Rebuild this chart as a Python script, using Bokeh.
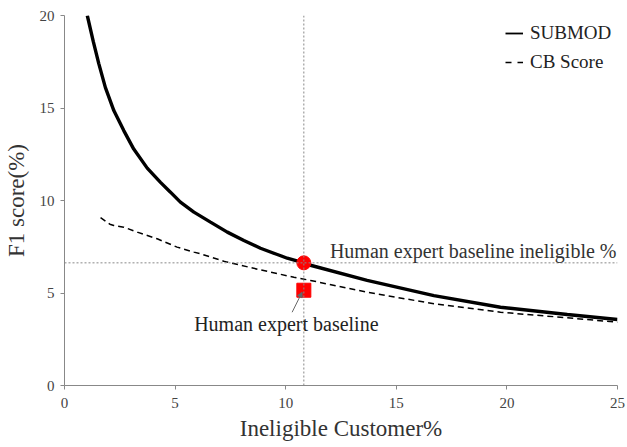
from bokeh.plotting import figure
from bokeh.models import Range1d, Label, Arrow, NormalHead, Span, Legend, LegendItem
from bokeh.embed import file_html
from bokeh.resources import INLINE

# SUBMOD curve
sub_x = [1.03, 1.30, 1.55, 1.85, 2.23, 2.68, 3.13, 3.74, 4.34, 4.79, 5.24, 5.85, 6.60,
         7.36, 8.11, 8.86, 9.62, 10.07, 10.82, 11.12, 13.68, 16.70, 19.71, 22.73, 25.0]
sub_y = [20.0, 18.6, 17.4, 16.1, 14.86, 13.78, 12.78, 11.75, 10.98, 10.45, 9.91, 9.37,
         8.83, 8.29, 7.84, 7.42, 7.08, 6.88, 6.63, 6.50, 5.68, 4.86, 4.23, 3.84, 3.57]

# CB Score curve
cb_x = [1.63, 2.05, 2.23, 2.68, 3.29, 4.19, 5.09, 5.85, 6.15, 7.20, 7.36, 8.86, 10.37,
        11.12, 13.68, 16.70, 19.71, 22.73, 25.0]
cb_y = [9.08, 8.72, 8.65, 8.56, 8.29, 7.93, 7.48, 7.21, 7.12, 6.72, 6.67, 6.25, 5.85,
        5.68, 5.04, 4.42, 3.96, 3.66, 3.42]

# Human expert baseline
human_ineligible = 10.82
human_f1_submod = 6.63
human_f1 = 5.15

x_ticks = [0, 5, 10, 15, 20, 25]
y_ticks = [0, 5, 10, 15, 20]

FONT = "Liberation Serif"

p = figure(width=627, height=447, output_backend="svg", toolbar_location=None,
           x_range=Range1d(0, 25), y_range=Range1d(0, 20),
           min_border_left=64, min_border_right=10, min_border_top=15, min_border_bottom=62)
p.outline_line_color = None
p.xgrid.visible = False
p.ygrid.visible = False

for ax in (p.xaxis[0], p.yaxis[0]):
    ax.axis_line_color = "#888888"
    ax.major_tick_line_color = "#888888"
    ax.minor_tick_line_color = None
    ax.major_tick_in = 0
    ax.major_tick_out = 4
    ax.major_label_text_font = FONT
    ax.major_label_text_font_size = "15px"
    ax.major_label_text_color = "#444444"
    ax.axis_label_text_font = FONT
    ax.axis_label_text_font_size = "23px"
    ax.axis_label_text_font_style = "normal"
    ax.axis_label_text_color = "#333333"

p.xaxis.ticker = x_ticks
p.yaxis.ticker = y_ticks
p.xaxis.axis_label = "Ineligible Customer%"
p.yaxis.axis_label = "F1 score(%)"
p.xaxis.major_label_standoff = 8
p.yaxis.major_label_standoff = 6
p.xaxis.axis_label_standoff = 5
p.yaxis.axis_label_standoff = 8

# reference lines
p.add_layout(Span(location=human_ineligible, dimension="height", line_color="#888888",
                  line_dash="2 2", line_width=1))
p.add_layout(Span(location=human_f1_submod, dimension="width", line_color="#888888",
                  line_dash="2 2", line_width=1))

p.line(sub_x, sub_y, line_color="black", line_width=3.4)
p.line(cb_x, cb_y, line_color="black", line_width=1.5, line_dash="6 4")

# thin proxies for the legend (kept outside the visible range)
l1 = p.line([-10, -9], [-10, -10], line_color="black", line_width=1.8)
l2 = p.line([-10, -9], [-10, -10], line_color="black", line_width=1.5, line_dash="6 6")

p.scatter([human_ineligible], [human_f1_submod], marker="circle", size=14, color="red")
p.scatter([human_ineligible], [human_f1], marker="square", size=14, color="red")

p.add_layout(Label(x=25, y=human_f1_submod, text="Human expert baseline ineligible %",
                   text_align="right", text_baseline="bottom", y_offset=1, x_offset=-1,
                   text_font=FONT, text_font_size="20px", text_color="#333333"))
p.add_layout(Label(x=human_ineligible, y=human_f1, text="Human expert baseline",
                   text_align="center", text_baseline="middle", x_offset=-17.5, y_offset=-34,
                   text_font=FONT, text_font_size="20px", text_color="#222222"))
p.add_layout(Arrow(end=NormalHead(size=5, line_color="#666666", fill_color="#666666"),
                   x_start=10.29, y_start=3.96, x_end=10.74, y_end=5.04,
                   line_color="#666666", line_width=1))

legend = Legend(items=[LegendItem(label="SUBMOD", renderers=[l1]),
                       LegendItem(label="CB Score", renderers=[l2])],
                location=(437, 308))
legend.background_fill_alpha = 0
legend.border_line_alpha = 0
legend.label_text_font = FONT
legend.label_text_font_size = "19px"
legend.label_text_color = "#222222"
legend.glyph_width = 18
legend.label_standoff = 7
legend.spacing = 7
legend.margin = 0
legend.padding = 4
p.add_layout(legend)

open("out.html", "w").write(file_html(p, INLINE))
